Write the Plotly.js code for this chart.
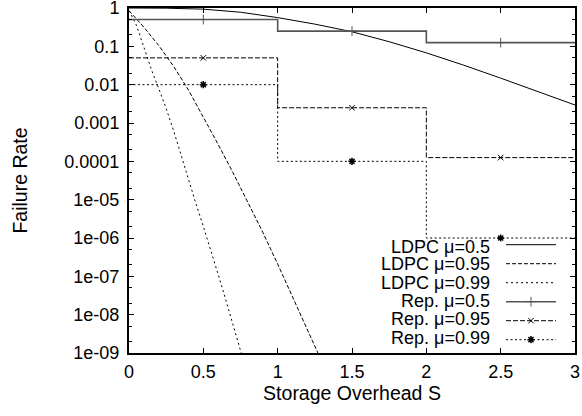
<!DOCTYPE html>
<html>
<head>
<meta charset="utf-8">
<script src="https://cdn.plot.ly/plotly-3.0.1.min.js"></script>
<style>html,body{margin:0;padding:0;background:#fff;}#chart{width:582px;height:416px;}</style>
</head>
<body>
<div id="chart"></div>
<script>
// ---- data ----
const seriesNames = ['LDPC \u03bc=0.5', 'LDPC \u03bc=0.95', 'LDPC \u03bc=0.99', 'Rep. \u03bc=0.5', 'Rep. \u03bc=0.95', 'Rep. \u03bc=0.99'];

const ldpc05X = [0, 0.25, 0.5, 0.75, 1, 1.25, 1.5, 1.75, 2, 2.25, 2.5, 2.75, 3];
const ldpc05Y = [1, 0.989, 0.933, 0.776, 0.562, 0.380, 0.240, 0.132, 0.0676, 0.0324, 0.0148, 0.00661, 0.00295];

const ldpc095X = [0, 0.1, 0.2, 0.3, 0.4, 0.5, 0.6, 0.7, 0.8, 0.9, 1.0, 1.1, 1.2, 1.3];
const ldpc095Y = [0.851, 0.316, 0.105, 0.0302, 0.00724, 0.00145, 2.75e-4, 5.01e-5, 8.71e-6, 1.41e-6, 2.09e-7, 3.02e-8, 4.17e-9, 5.62e-10];

const ldpc099X = [0, 0.05, 0.1, 0.15, 0.2, 0.25, 0.3, 0.35, 0.4, 0.45, 0.5, 0.55, 0.6, 0.65, 0.7, 0.75, 0.8];
const ldpc099Y = [0.851, 0.355, 0.0955, 0.0251, 0.00794, 0.0024, 6.31e-4, 1.41e-4, 3.16e-5, 7.94e-6, 2.0e-6, 5.01e-7, 1.12e-7, 2.51e-8, 5.62e-9, 1.12e-9, 2.51e-10];

const repStepX = [0, 1, 2, 3];
const rep05Step = [0.5, 0.25, 0.125, 0.125];
const rep095Step = [0.05, 0.0025, 0.000125, 0.000125];
const rep099Step = [0.01, 0.0001, 1e-6, 1e-6];

const repMarkX = [0.5, 1.5, 2.5];
const rep05Mark = [0.5, 0.25, 0.125];
const rep095Mark = [0.05, 0.0025, 0.000125];
const rep099Mark = [0.01, 0.0001, 1e-6];

const xTickVals = [0, 0.5, 1, 1.5, 2, 2.5, 3];
const xTickText = ['0', '0.5', '1', '1.5', '2', '2.5', '3'];
const yTickVals = [1, 0.1, 0.01, 0.001, 0.0001, 1e-5, 1e-6, 1e-7, 1e-8, 1e-9];
const yTickText = ['1', '0.1', '0.01', '0.001', '0.0001', '1e-05', '1e-06', '1e-07', '1e-08', '1e-09'];

// ---- styles ----
const FONT = 'Liberation Sans, Arial, Helvetica, sans-serif';
const styles = [
  {color: '#000', width: 1, dash: 'solid'},
  {color: '#000', width: 1, dash: '4px,2px'},
  {color: '#000', width: 1, dash: '2px,3px'},
  {color: '#555', width: 1.6, dash: 'solid'},
  {color: '#000', width: 1, dash: '5px,2px'},
  {color: '#000', width: 1, dash: '2px,2.5px'}
];
const markers = [
  null, null, null,
  {symbol: 'cross-thin', size: 7, color: '#555', line: {width: 1, color: '#555'}},
  {symbol: 'x-thin', size: 5.5, color: '#000', line: {width: 1, color: '#000'}},
  {symbol: 'asterisk', size: 6, color: '#000', line: {width: 1.5, color: '#000'}}
];

const traces = [];
const ldpc = [[ldpc05X, ldpc05Y], [ldpc095X, ldpc095Y], [ldpc099X, ldpc099Y]];
ldpc.forEach((d, i) => {
  traces.push({x: d[0], y: d[1], mode: 'lines', name: ' ', line: styles[i], showlegend: true, hoverinfo: 'skip'});
});
const reps = [[rep05Step, rep05Mark], [rep095Step, rep095Mark], [rep099Step, rep099Mark]];
reps.forEach((d, j) => {
  const i = j + 3;
  traces.push({x: repStepX, y: d[0], mode: 'lines', line: Object.assign({shape: 'hv'}, styles[i]), showlegend: false, hoverinfo: 'skip'});
  traces.push({x: repMarkX, y: d[1], mode: 'markers', marker: markers[i], showlegend: false, hoverinfo: 'skip'});
});
reps.forEach((d, j) => {
  const i = j + 3;
  traces.push({x: [null], y: [null], mode: 'lines+markers', name: ' ', line: styles[i], marker: markers[i], showlegend: true, hoverinfo: 'skip'});
});

// legend text as right-aligned labels (symbols sit to the right, like the reference)
const PL = 129, PT = 8, PW = 446, PH = 345;
const labelRowsPx = [246.7, 264.3, 282.7, 301, 319.3, 337.7];
const annotations = seriesNames.map((t, k) => ({
  text: t, xref: 'paper', yref: 'paper', x: (492 - PL) / PW, y: (PT + PH - labelRowsPx[k]) / PH,
  xanchor: 'right', yanchor: 'middle', showarrow: false, font: {family: FONT, size: 18, color: '#000'}
}));

const layout = {
  width: 582, height: 416,
  margin: {l: PL, r: 582 - PL - PW, t: PT, b: 416 - PT - PH},
  paper_bgcolor: '#fff', plot_bgcolor: '#fff',
  font: {family: FONT, size: 18, color: '#000'},
  showlegend: true,
  legend: {
    x: (501 - PL) / PW, xanchor: 'left', y: (PT + PH - 292.2) / PH, yanchor: 'middle',
    bgcolor: 'rgba(0,0,0,0)', borderwidth: 0, itemwidth: 50, font: {size: 12},
    tracegroupgap: 0
  },
  xaxis: {
    range: [0, 3], tickmode: 'array', tickvals: xTickVals, ticktext: xTickText,
    ticks: 'inside', ticklen: 5, tickwidth: 1, tickcolor: '#000',
    showline: true, linewidth: 2, linecolor: '#000', mirror: 'allticks',
    showgrid: false, zeroline: false, automargin: false,
    tickfont: {family: FONT, size: 18, color: '#000'}, ticklabelstandoff: 1,
    ticklabeloverflow: 'allow',
    title: {text: 'Storage Overhead S', font: {family: FONT, size: 19.5, color: '#000'}, standoff: 2}
  },
  yaxis: {
    type: 'log', range: [-9, 0], tickmode: 'array', tickvals: yTickVals, ticktext: yTickText,
    ticks: 'inside', ticklen: 5, tickwidth: 1, tickcolor: '#000',
    minor: {dtick: 'D2', ticks: 'inside', ticklen: 3, tickwidth: 1, tickcolor: '#000', showgrid: false},
    showline: true, linewidth: 2, linecolor: '#000', mirror: 'allticks',
    showgrid: false, zeroline: false, automargin: false,
    tickfont: {family: FONT, size: 18, color: '#000'}, ticklabelstandoff: 4,
    ticklabeloverflow: 'allow',
    title: {text: 'Failure Rate', font: {family: FONT, size: 19.5, color: '#000'}, standoff: 32}
  },
  annotations: annotations
};

Plotly.newPlot('chart', traces, layout, {staticPlot: true, displayModeBar: false});
</script>
</body>
</html>
